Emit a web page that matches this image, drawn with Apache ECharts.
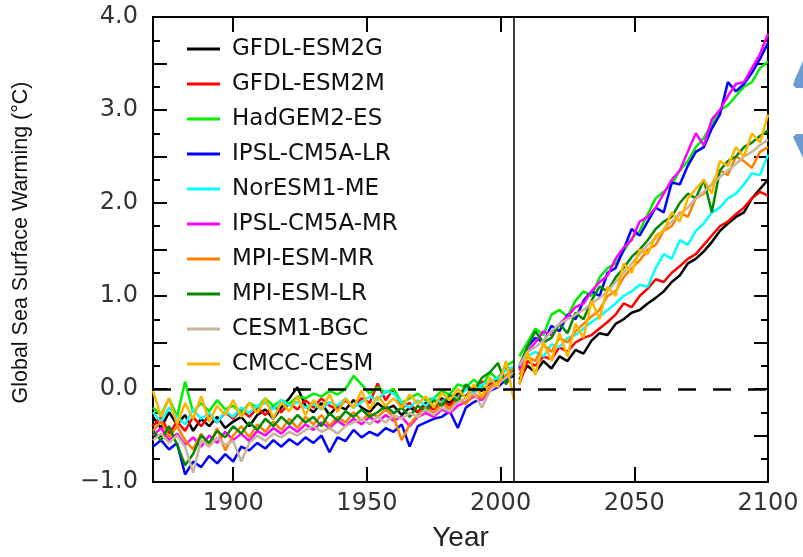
<!DOCTYPE html>
<html>
<head>
<meta charset="utf-8">
<script src="https://cdn.jsdelivr.net/npm/echarts@6/dist/echarts.min.js"></script>
<style>html,body{margin:0;padding:0;background:#fff;}#c{width:803px;height:557px;}</style>
</head>
<body>
<div id="c"></div>
<script>
const histYears = [1870,1873,1876,1879,1882,1885,1888,1891,1894,1897,1900,1903,1906,1909,1912,1915,1918,1921,1924,1927,1930,1933,1936,1939,1942,1945,1948,1951,1954,1957,1960,1963,1966,1969,1972,1975,1978,1981,1984,1987,1990,1993,1996,1999,2002,2005];
const futureYears = [2007,2010,2013,2016,2019,2022,2025,2028,2031,2034,2037,2040,2043,2046,2049,2052,2055,2058,2061,2064,2067,2070,2073,2076,2079,2082,2085,2088,2091,2094,2097,2100];

const models = ["GFDL-ESM2G","GFDL-ESM2M","HadGEM2-ES","IPSL-CM5A-LR","NorESM1-ME","IPSL-CM5A-MR","MPI-ESM-MR","MPI-ESM-LR","CESM1-BGC","CMCC-CESM"];
const colors = ["#000000","#ff0000","#00ee00","#0000ff","#00ffff","#ff00ff","#ff8000","#008a00","#c8b49c","#ffb400"];

const hist_GFDL_ESM2G = [-0.30,-0.42,-0.25,-0.38,-0.28,-0.45,-0.32,-0.40,-0.30,-0.42,-0.35,-0.30,-0.40,-0.28,-0.22,-0.32,-0.20,-0.10,0.02,-0.18,-0.25,-0.15,-0.28,-0.18,-0.22,-0.12,-0.20,-0.25,-0.15,-0.22,-0.18,-0.28,-0.20,-0.25,-0.15,-0.20,-0.10,-0.15,-0.05,-0.08,0.02,-0.02,0.06,0.10,0.25,0.15];
const hist_GFDL_ESM2M = [-0.40,-0.30,-0.48,-0.35,-0.45,-0.30,-0.40,-0.28,-0.36,-0.25,-0.32,-0.22,-0.30,-0.20,-0.28,-0.18,-0.25,-0.15,-0.22,-0.12,-0.20,-0.10,-0.18,-0.22,-0.12,-0.20,-0.10,-0.15,0.06,-0.12,0.00,-0.20,-0.15,-0.25,-0.18,-0.22,-0.12,-0.18,-0.08,0.02,-0.05,0.08,0.05,0.12,0.22,0.18];
const hist_HadGEM2_ES = [-0.20,-0.28,-0.10,-0.30,0.08,-0.25,-0.15,-0.24,-0.12,-0.22,-0.18,-0.26,-0.15,-0.20,-0.10,-0.18,-0.12,-0.16,-0.08,-0.10,-0.05,-0.08,-0.02,-0.06,0.00,0.14,0.05,-0.05,0.02,-0.04,0.00,-0.15,-0.10,-0.05,-0.12,-0.10,-0.02,-0.06,0.05,0.02,0.10,0.02,0.18,0.10,0.25,0.30];
const hist_IPSL_CM5A_LR = [-0.62,-0.55,-0.65,-0.58,-0.92,-0.78,-0.84,-0.72,-0.80,-0.70,-0.78,-0.62,-0.66,-0.58,-0.64,-0.55,-0.62,-0.54,-0.60,-0.52,-0.58,-0.50,-0.68,-0.52,-0.56,-0.44,-0.52,-0.46,-0.50,-0.42,-0.46,-0.38,-0.62,-0.40,-0.36,-0.32,-0.30,-0.24,-0.42,-0.20,-0.14,-0.10,-0.02,0.02,0.10,0.14];
const hist_NorESM1_ME = [-0.25,-0.35,-0.20,-0.30,-0.38,-0.22,-0.32,-0.26,-0.36,-0.24,-0.30,-0.20,-0.26,-0.18,-0.15,-0.22,-0.12,-0.18,-0.14,-0.20,-0.16,-0.22,-0.14,-0.18,-0.10,-0.20,-0.14,-0.08,-0.12,-0.02,-0.05,-0.15,-0.20,-0.12,-0.18,-0.10,-0.15,-0.06,-0.10,0.00,-0.04,0.05,0.08,0.12,0.20,0.24];
const hist_IPSL_CM5A_MR = [-0.50,-0.42,-0.55,-0.48,-0.60,-0.52,-0.62,-0.50,-0.58,-0.46,-0.55,-0.48,-0.56,-0.45,-0.50,-0.42,-0.48,-0.40,-0.46,-0.38,-0.44,-0.36,-0.42,-0.34,-0.40,-0.32,-0.38,-0.30,-0.36,-0.28,-0.34,-0.30,-0.40,-0.30,-0.26,-0.30,-0.22,-0.26,-0.18,-0.14,-0.08,-0.12,-0.02,0.05,0.12,0.20];
const hist_MPI_ESM_MR = [-0.45,-0.35,-0.52,-0.40,-0.55,-0.65,-0.48,-0.60,-0.42,-0.66,-0.50,-0.40,-0.52,-0.38,-0.46,-0.35,-0.44,-0.32,-0.42,-0.30,-0.38,-0.28,-0.40,-0.30,-0.36,-0.25,-0.34,-0.26,-0.30,-0.22,-0.30,-0.55,-0.38,-0.28,-0.20,-0.26,-0.15,-0.22,-0.10,-0.16,-0.05,-0.10,0.02,0.08,0.15,0.22];
const hist_MPI_ESM_LR = [-0.45,-0.55,-0.40,-0.60,-0.82,-0.70,-0.50,-0.58,-0.45,-0.52,-0.40,-0.48,-0.36,-0.44,-0.32,-0.40,-0.30,-0.38,-0.28,-0.36,-0.30,-0.40,-0.26,-0.34,-0.24,-0.30,-0.22,-0.30,-0.25,-0.18,-0.26,-0.20,-0.30,-0.18,-0.24,-0.12,-0.18,-0.06,-0.14,0.05,-0.02,0.12,0.18,0.28,0.05,0.20];
const hist_CESM1_BGC = [-0.55,-0.48,-0.58,-0.50,-0.62,-0.90,-0.55,-0.62,-0.52,-0.60,-0.56,-0.78,-0.58,-0.50,-0.56,-0.48,-0.52,-0.46,-0.50,-0.44,-0.40,-0.46,-0.42,-0.48,-0.40,-0.36,-0.32,-0.38,-0.30,-0.36,-0.28,-0.32,-0.26,-0.30,-0.22,-0.28,-0.20,-0.24,-0.14,-0.10,-0.04,-0.20,-0.02,0.06,0.12,0.18];
const hist_CMCC_CESM = [-0.02,-0.30,-0.10,-0.38,-0.15,-0.32,-0.08,-0.35,-0.18,-0.28,-0.12,-0.30,-0.15,-0.26,-0.10,-0.32,-0.14,-0.24,-0.08,-0.28,-0.12,-0.22,-0.06,-0.25,-0.10,-0.20,-0.02,-0.22,-0.08,-0.18,-0.10,-0.20,-0.06,-0.16,-0.08,-0.20,-0.04,-0.12,0.00,-0.10,0.05,-0.08,0.12,0.02,0.30,-0.12];

const rcp_GFDL_ESM2G = [0.10,0.25,0.18,0.30,0.22,0.35,0.30,0.42,0.38,0.52,0.60,0.58,0.70,0.75,0.82,0.85,0.92,0.98,1.05,1.15,1.22,1.35,1.40,1.48,1.58,1.70,1.78,1.85,1.90,2.05,2.15,2.25];
const rcp_GFDL_ESM2M = [0.05,0.30,0.25,0.35,0.32,0.45,0.40,0.50,0.55,0.58,0.65,0.72,0.80,0.92,0.88,1.00,1.08,1.18,1.15,1.25,1.32,1.40,1.45,1.55,1.65,1.75,1.80,1.88,1.95,2.05,2.12,2.08];
const rcp_HadGEM2_ES = [0.35,0.50,0.65,0.58,0.80,0.85,0.78,0.95,1.05,1.00,1.20,1.30,1.35,1.48,1.62,1.70,1.88,2.05,2.12,2.20,2.35,2.45,2.60,2.70,2.85,3.00,3.05,3.15,3.25,3.30,3.45,3.52];
const rcp_IPSL_CM5A_LR = [0.22,0.45,0.55,0.50,0.68,0.62,0.80,0.75,0.95,1.05,1.00,1.25,1.30,1.50,1.72,1.65,1.80,1.95,1.90,2.22,2.20,2.40,2.55,2.60,2.80,2.95,3.30,3.20,3.28,3.40,3.55,3.72];
const rcp_NorESM1_ME = [0.25,0.35,0.40,0.35,0.48,0.45,0.55,0.58,0.65,0.72,0.78,0.85,0.92,1.00,1.05,1.12,1.10,1.30,1.45,1.40,1.60,1.55,1.70,1.78,1.90,1.95,2.05,2.10,2.20,2.32,2.30,2.52];
const rcp_IPSL_CM5A_MR = [0.20,0.40,0.50,0.62,0.58,0.70,0.78,0.88,0.92,1.05,1.15,1.22,1.40,1.52,1.60,1.80,1.85,1.95,2.10,2.25,2.35,2.55,2.75,2.62,2.90,3.00,3.15,3.28,3.30,3.45,3.60,3.82];
const rcp_MPI_ESM_MR = [0.15,0.35,0.30,0.48,0.40,0.55,0.50,0.62,0.70,0.78,0.85,1.00,1.05,1.20,1.30,1.38,1.50,1.55,1.70,1.75,1.90,1.85,2.05,2.10,2.20,2.35,2.30,2.50,2.45,2.38,2.55,2.60];
const rcp_MPI_ESM_LR = [0.25,0.45,0.62,0.50,0.55,0.70,0.60,0.82,0.75,0.95,1.10,1.05,1.20,1.30,1.42,1.50,1.60,1.72,1.80,1.85,2.00,2.10,2.05,2.25,1.90,2.35,2.45,2.50,2.60,2.65,2.72,2.78];
const rcp_CESM1_BGC = [0.25,0.40,0.45,0.52,0.62,0.70,0.75,0.80,0.85,0.92,0.98,1.05,1.15,1.25,1.35,1.45,1.55,1.62,1.72,1.80,1.88,1.95,2.05,2.12,2.20,2.28,2.35,2.42,2.50,2.55,2.62,2.68];
const rcp_CMCC_CESM = [0.05,0.40,0.15,0.50,0.30,0.60,0.35,0.70,0.55,0.95,0.75,1.10,1.00,1.35,1.25,1.50,1.45,1.65,1.70,1.90,1.80,2.05,2.15,2.25,2.10,2.45,2.40,2.60,2.50,2.75,2.65,2.95];

const histData = [hist_GFDL_ESM2G,hist_GFDL_ESM2M,hist_HadGEM2_ES,hist_IPSL_CM5A_LR,hist_NorESM1_ME,hist_IPSL_CM5A_MR,hist_MPI_ESM_MR,hist_MPI_ESM_LR,hist_CESM1_BGC,hist_CMCC_CESM];
const rcpData = [rcp_GFDL_ESM2G,rcp_GFDL_ESM2M,rcp_HadGEM2_ES,rcp_IPSL_CM5A_LR,rcp_NorESM1_ME,rcp_IPSL_CM5A_MR,rcp_MPI_ESM_MR,rcp_MPI_ESM_LR,rcp_CESM1_BGC,rcp_CMCC_CESM];

const xTicks = [1900,1950,2000,2050,2100];
const yTickLabels = {"-1": "\u22121.0", "0": "0.0", "1": "1.0", "2": "2.0", "3": "3.0", "4": "4.0"};
const scenarioStart = 2005;
const yLabelValues = [-1,0,1,2,3,4];

const chart = echarts.init(document.getElementById('c'), null, {renderer: 'canvas'});
const series = [];
models.forEach((m, i) => {
  series.push({
    name: m, type: 'line', showSymbol: false, symbol: 'none',
    data: histYears.map((y, k) => [y, histData[i][k]]),
    lineStyle: {width: 2.5, color: colors[i]}, itemStyle: {color: colors[i]},
    z: 3, animation: false
  });
  series.push({
    name: m, type: 'line', showSymbol: false, symbol: 'none',
    data: futureYears.map((y, k) => [y, rcpData[i][k]]),
    lineStyle: {width: 2.5, color: colors[i]}, itemStyle: {color: colors[i]},
    z: 3, animation: false
  });
});
series[0].markLine = {
  silent: true, symbol: 'none', animation: false,
  label: {show: false},
  data: [
    {xAxis: scenarioStart, lineStyle: {color: '#000', width: 1.5, type: 'solid'}},
    {yAxis: 0, lineStyle: {color: '#000', width: 2.5, type: [18, 17]}}
  ]
};

const axisFont = {fontFamily: 'DejaVu Sans', fontSize: 24, color: '#333'};

chart.setOption({
  animation: false,
  backgroundColor: '#fff',
  grid: {left: 153, right: 35, top: 17, bottom: 69, containLabel: false},
  legend: {
    orient: 'vertical', left: 187, top: 37, padding: 0,
    itemWidth: 33, itemHeight: 3, itemGap: 11, icon: 'rect',
    data: models,
    textStyle: {fontFamily: 'DejaVu Sans', fontSize: 23, color: '#111', lineHeight: 24, padding: [0,0,0,7]}
  },
  xAxis: [{
    type: 'value', min: 1870, max: 2100, position: 'bottom',
    name: 'Year', nameLocation: 'middle', nameGap: 42,
    nameTextStyle: {fontFamily: 'Liberation Sans', fontSize: 28, color: '#222'},
    axisLine: {onZero: false, lineStyle: {color: '#000', width: 2}},
    axisTick: {inside: true, length: 15, customValues: xTicks, lineStyle: {color: '#000', width: 2}},
    axisLabel: {customValues: xTicks, margin: 10, formatter: v => String(v), ...axisFont},
    splitLine: {show: false}
  }, {
    type: 'value', min: 1870, max: 2100, position: 'top',
    axisLine: {onZero: false, lineStyle: {color: '#000', width: 2}},
    axisTick: {inside: true, length: 15, customValues: xTicks, lineStyle: {color: '#000', width: 2}},
    axisLabel: {show: false}, splitLine: {show: false}
  }],
  yAxis: [{
    type: 'value', min: -1, max: 4, interval: 0.5, position: 'left',
    name: 'Global Sea Surface Warming (\u00B0C)', nameLocation: 'middle', nameGap: 121,
    nameTextStyle: {fontFamily: 'Liberation Sans Narrow, Liberation Sans', fontSize: 21.5, color: '#111', padding: [0,0,0,14]},
    axisLine: {onZero: false, lineStyle: {color: '#000', width: 2}},
    axisTick: {inside: true, length: 14, lineStyle: {color: '#000', width: 2}},
    minorTick: {show: true, splitNumber: 2, length: 7, lineStyle: {color: '#000', width: 2}},
    axisLabel: {customValues: yLabelValues, margin: 15, formatter: v => yTickLabels[String(Math.round(v))] || '', ...axisFont},
    splitLine: {show: false}
  }, {
    type: 'value', min: -1, max: 4, interval: 0.5, position: 'right',
    axisLine: {onZero: false, lineStyle: {color: '#000', width: 2}},
    axisTick: {inside: true, length: 14, lineStyle: {color: '#000', width: 2}},
    minorTick: {show: true, splitNumber: 2, length: 7, lineStyle: {color: '#000', width: 2}},
    axisLabel: {show: false}, splitLine: {show: false}
  }],
  graphic: [
    {type: 'polygon', silent: true, shape: {points: [[803,61],[795,79],[793,85],[796,88],[803,88]]}, style: {fill: '#6b9bd1'}},
    {type: 'polygon', silent: true, shape: {points: [[796,134],[803,134],[803,158],[795,141],[793,137]]}, style: {fill: '#6b9bd1'}}
  ],
  series: series
});
</script>
</body>
</html>
